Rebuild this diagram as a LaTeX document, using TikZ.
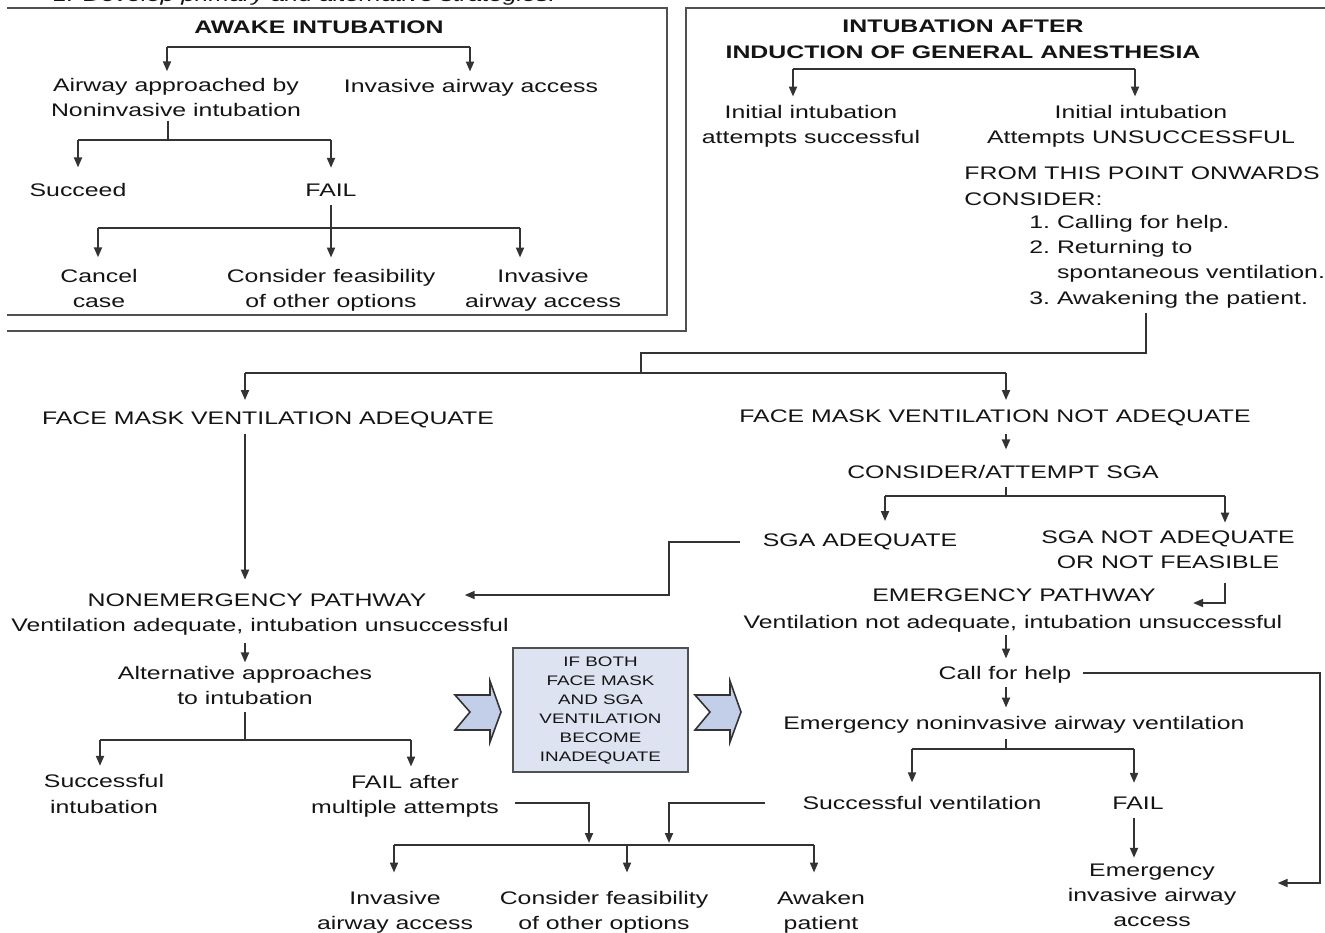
\documentclass[tikz,border=0pt]{standalone}
\usepackage{fontspec}
\setmainfont{Liberation Sans}[FakeStretch=1.365]
\usetikzlibrary{arrows.meta,calc}
\definecolor{ln}{HTML}{333333}
\definecolor{tx}{HTML}{141414}
\definecolor{fr}{HTML}{505050}
\definecolor{boxfill}{HTML}{DEE3F1}
\definecolor{chevfill}{HTML}{C3CEE8}
\newcommand{\txtfont}{\fontsize{9.1}{12.6}\selectfont}
\tikzset{
  lbl/.style={text=tx, inner sep=0pt, align=center, font=\txtfont},
  lblt/.style={text=tx, inner sep=0pt, font=\txtfont},
  ttl/.style={text=tx, inner sep=0pt, align=center, font=\fontsize{9.1}{13}\selectfont\bfseries},
  con/.style={draw=ln, line width=0.95pt},
  arr/.style={con, -{Triangle[length=5pt,width=4pt]}},
  frm/.style={draw=fr, line width=1.15pt},
  chev/.style={draw=ln, line width=0.8pt, fill=chevfill, line join=miter},
  ifbox/.style={draw=fr, line width=0.9pt, fill=boxfill, inner sep=0pt, minimum width=87.5pt, minimum height=62pt, align=center, text=tx, font=\fontsize{6.9}{9.5}\selectfont},
}
\begin{document}
\begin{tikzpicture}[x=0.5pt,y=-0.5pt]
\useasboundingbox (0,0) rectangle (1325,932);

% caption, cut by the top edge as in the reference
\node[lblt, font=\txtfont\itshape, anchor=base west] (cap) at (53,1) {1. Develop primary and alternative strategies.};

% frames
\draw[frm] (7,8) -- (667,8) -- (667,315) -- (7,315);
\draw[frm] (7,331) -- (686,331) -- (686,8) -- (1325,8);

% ---------------- AWAKE INTUBATION ----------------
\node[ttl] (aw) at (319,27) {AWAKE INTUBATION};
\node[lbl] (aw1) at (176,97.5) {Airway approached by\\Noninvasive intubation};
\node[lbl] (aw2) at (471,88) {Invasive airway access};
\coordinate (a1l) at (167,47); \coordinate (a1r) at (470,47);
\draw[con] (a1l) -- (a1r);
\draw[arr, shorten >=3.25pt] (a1l) -- (a1l |- aw1.north);
\draw[arr, shorten >=3.8pt] (a1r) -- (a1r |- aw2.north);

\node[lbl] (su) at (78,190) {Succeed};
\node[lbl] (fa) at (331,190) {FAIL};
\coordinate (a2m) at (168,140); \coordinate (a2l) at (78,140); \coordinate (a2r) at (331,140);
\draw[con, shorten <=1.7pt] (aw1.south -| a2m) -- (a2m);
\draw[con] (a2l) -- (a2r);
\draw[arr, shorten >=7.75pt] (a2l) -- (a2l |- su.north);
\draw[arr, shorten >=7.75pt] (a2r) -- (a2r |- fa.north);

\node[lbl] (cc) at (99,288.5) {Cancel\\case};
\node[lbl] (cf) at (331,290.5) {Consider feasibility\\of other options};
\node[lbl] (ia) at (543,290.5) {Invasive\\airway access};
\draw[arr, shorten <=4.25pt, shorten >=5.75pt] (fa.south) -- (cf.north);
\coordinate (a3l) at (98,228); \coordinate (a3r) at (520,228);
\draw[con] (a3l) -- (a3r);
\draw[arr, shorten >=5.75pt] (a3l) -- (a3l |- cc.north);
\draw[arr, shorten >=5.75pt] (a3r) -- (a3r |- ia.north);

% ---------------- GENERAL ANESTHESIA ----------------
\node[ttl] (gen) at (963,39) {INTUBATION AFTER\\INDUCTION OF GENERAL ANESTHESIA};
\coordinate (g1l) at (793,69); \coordinate (g1r) at (1135,69);
\draw[con] (g1l) -- (g1r);
\node[lbl] (in1) at (811,126.5) {Initial intubation\\attempts successful};
\node[lbl] (in2) at (1141,126.5) {Initial intubation\\Attempts UNSUCCESSFUL};
\draw[arr, shorten >=4.25pt] (g1l) -- (g1l |- in1.north);
\draw[arr, shorten >=4.25pt] (g1r) -- (g1r |- in2.north);

\node[lblt, anchor=base west] (from) at (964,179.5) {\fontsize{9.1}{13}\selectfont\begin{tabular}[t]{@{}l@{}}FROM THIS POINT ONWARDS\\CONSIDER:\end{tabular}};
\node[lblt, anchor=base west] (lst) at (1029,228.5) {\begin{tabular}[t]{@{}l@{\ }l@{}}1. & Calling for help.\\2. & Returning to\\ & spontaneous ventilation.\\3. & Awakening the patient.\end{tabular}};

\coordinate (c1) at (1146,353); \coordinate (c2) at (641,353); \coordinate (c3) at (641,373);
\draw[con, shorten <=0.7pt] (lst.south -| c1) -- (c1) -- (c2) -- (c3);
\coordinate (L) at (245,373); \coordinate (R) at (1006,373);
\draw[con] (L) -- (R);

% ---------------- FACE MASK ----------------
\node[lbl] (fmA) at (268,420) {FACE MASK VENTILATION ADEQUATE};
\node[lbl] (fmN) at (995,418) {FACE MASK VENTILATION NOT ADEQUATE};
\draw[arr, shorten >=5.75pt] (L) -- (L |- fmA.north);
\draw[arr, shorten >=4.75pt] (R) -- (R |- fmN.north);

\node[lbl] (nonem) at (257,600) {NONEMERGENCY PATHWAY};
\node[lbl] (nonemv) at (260,627) {Ventilation adequate, intubation unsuccessful};
\draw[arr, shorten <=2.75pt, shorten >=6.75pt] (fmA.south -| L) -- (L |- nonem.north);

\node[lbl] (sga) at (1003,472) {CONSIDER/ATTEMPT SGA};
\draw[arr, shorten <=3.75pt, shorten >=7.75pt] (fmN.south -| R) -- (R |- sga.north);
\coordinate (s1) at (1006,496); \coordinate (s1l) at (885,496); \coordinate (s1r) at (1225,496);
\draw[con, shorten <=3.75pt] (sga.south -| s1) -- (s1);
\draw[con] (s1l) -- (s1r);
\node[lbl] (sgaA) at (860,542) {SGA ADEQUATE};
\node[lbl] (sgaN) at (1168,549.6) {SGA NOT ADEQUATE\\OR NOT FEASIBLE};
\draw[arr, shorten >=6.25pt] (s1l) -- (s1l |- sgaA.north);
\draw[arr, shorten >=3.75pt] (s1r) -- (s1r |- sgaN.north);

\coordinate (k1) at (669,542); \coordinate (k2) at (669,595);
\draw[arr, shorten <=11.25pt, shorten >=19pt] (sgaA.west) -- (k1) -- (k2) -- (k2 -| nonem.east);

% ---------------- EMERGENCY ----------------
\node[lbl] (emerg) at (1014,595) {EMERGENCY PATHWAY};
\node[lbl] (emergv) at (1013,624) {Ventilation not adequate, intubation unsuccessful};
\coordinate (e1) at (1225,603);
\draw[arr, shorten <=7.15pt, shorten >=18.5pt] (sgaN.south -| e1) -- (e1) -- (e1 -| emerg.east);

\node[lbl] (call) at (1005,675) {Call for help};
\draw[arr, shorten <=1.3pt, shorten >=3.8pt] (emergv.south -| R) -- (R |- call.north);
\node[lbl] (eni) at (1014,725) {Emergency noninvasive airway ventilation};
\draw[arr, shorten <=1.8pt, shorten >=4.3pt] (call.south -| R) -- (R |- eni.north);
\coordinate (n1) at (1006,749); \coordinate (n1l) at (912,749); \coordinate (n1r) at (1134,749);
\draw[con, shorten <=2.8pt] (eni.south -| n1) -- (n1);
\draw[con] (n1l) -- (n1r);
\node[lbl] (sv) at (922,803) {Successful ventilation};
\node[lbl] (f2) at (1138,803) {FAIL};
\draw[arr, shorten >=6.75pt] (n1l) -- (n1l |- sv.north);
\draw[arr, shorten >=6.75pt] (n1r) -- (n1r |- f2.north);
\node[lbl] (eia) at (1152,895.2) {Emergency\\invasive airway\\access};
\draw[arr, shorten <=4.25pt, shorten >=2.75pt] (f2.south -| n1r) -- (n1r |- eia.north);
\coordinate (m1) at (1320,673); \coordinate (m2) at (1320,883);
\draw[arr, shorten <=5.5pt, shorten >=20.5pt] (call.east |- m1) -- (m1) -- (m2) -- (m2 -| eia.east);

% ---------------- NONEMERGENCY ----------------
\node[lbl] (alt) at (245,685.6) {Alternative approaches\\to intubation};
\draw[arr, shorten <=3.8pt, shorten >=1.75pt] (nonemv.south -| L) -- (L |- alt.north);
\coordinate (p1) at (245,740); \coordinate (p1l) at (100,740); \coordinate (p1r) at (411,740);
\draw[con, shorten <=3.5pt] (alt.south -| p1) -- (p1);
\draw[con] (p1l) -- (p1r);
\node[lbl] (succi) at (104,794) {Successful\\intubation};
\node[lbl] (failm) at (405,796.5) {FAIL after\\multiple attempts};
\draw[arr, shorten >=4.25pt] (p1l) -- (p1l |- succi.north);
\draw[arr, shorten >=4.25pt] (p1r) -- (p1r |- failm.north);

% ---------------- BOTTOM ----------------
\coordinate (q2) at (589,803); \coordinate (q1) at (669,803);
\coordinate (bl) at (394,845); \coordinate (bm) at (627,845); \coordinate (br) at (814,845);
\draw[con] (bl) -- (br);
\draw[arr, shorten <=8pt, shorten >=1pt] (failm.east |- q2) -- (q2) -- (q2 |- bl);
\draw[arr, shorten <=18.5pt, shorten >=1pt] (sv.west) -- (q1) -- (q1 |- bl);
\node[lbl] (inv) at (395,912.5) {Invasive\\airway access};
\node[lbl] (cons) at (604,912.5) {Consider feasibility\\of other options};
\node[lbl] (awk) at (821,912.5) {Awaken\\patient};
\draw[arr, shorten >=9.25pt] (bl) -- (bl |- inv.north);
\draw[arr, shorten >=9.25pt] (bm) -- (bm |- cons.north);
\draw[arr, shorten >=9.25pt] (br) -- (br |- awk.north);

% ---------------- centre box and chevrons ----------------
\node[ifbox] (ifb) at (600.5,710) {IF BOTH\\FACE MASK\\AND SGA\\VENTILATION\\BECOME\\INADEQUATE};
\draw[chev] (455,695) -- (490,695) -- (490,681) -- (501,712) -- (490,742) -- (490,730) -- (455,730) -- (470,712) -- cycle;
\draw[chev] (695,695) -- (730,695) -- (730,681) -- (741,712) -- (730,742) -- (730,730) -- (695,730) -- (710,712) -- cycle;
\end{tikzpicture}
\end{document}
